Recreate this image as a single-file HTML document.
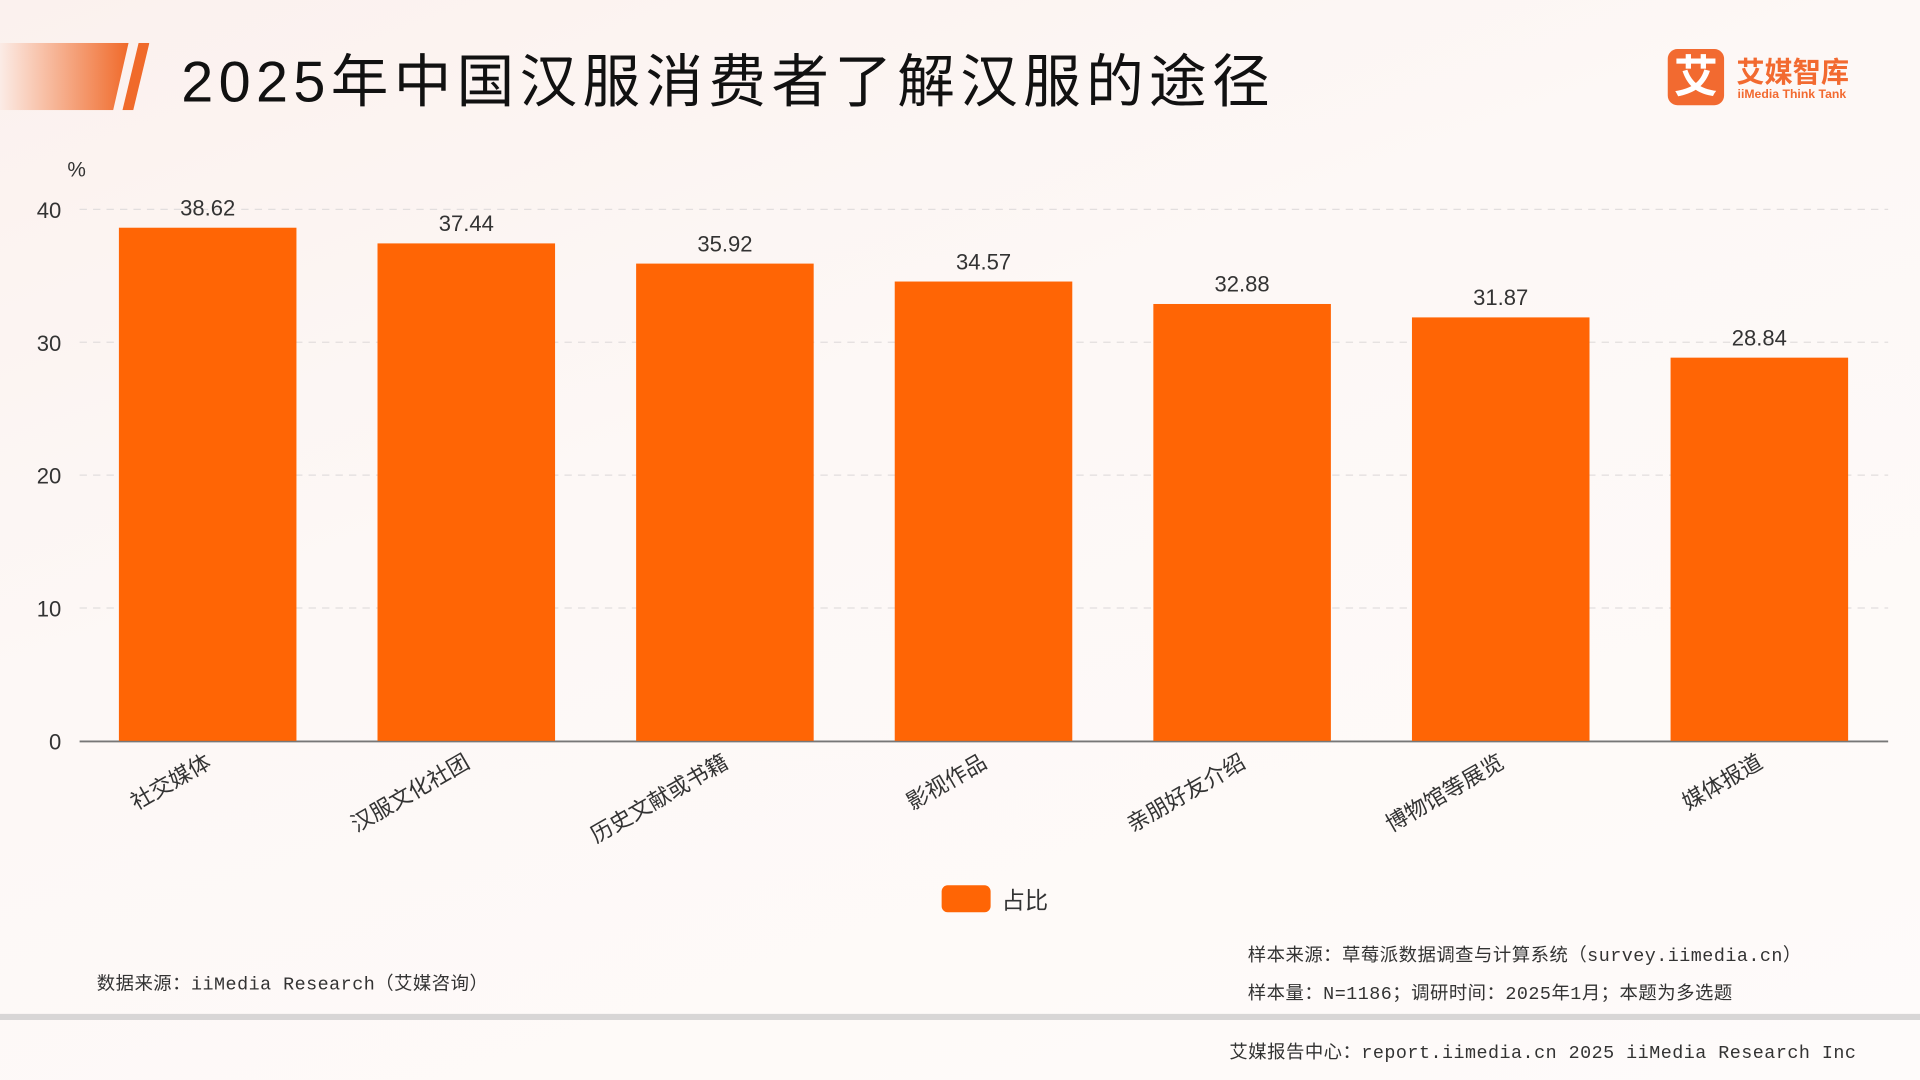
<!DOCTYPE html>
<html><head><meta charset="utf-8">
<style>
html,body{margin:0;padding:0;width:1920px;height:1080px;overflow:hidden;background:#fdf7f5;}
#wrap{position:absolute;left:0;top:0;width:1568px;height:882px;transform:scale(1.22449);transform-origin:0 0;
background:linear-gradient(160deg,#fbf1ee 0%,#fdf8f6 40%,#fefbfa 100%);font-family:"Liberation Sans","Noto Sans CJK SC",sans-serif;}
.abs{position:absolute;}
.mono{font-family:"Liberation Mono","Noto Sans CJK SC",monospace;color:#333;font-size:15px;letter-spacing:0.4px;}
</style></head><body>
<div id="wrap">
  <div class="abs" style="left:0;top:35px;width:105px;height:55px;background:linear-gradient(90deg,rgba(255,120,60,0.05),#f06a2a);clip-path:polygon(0 0,100% 0,88% 100%,0 100%);"></div>
  <div class="abs" style="left:100px;top:35px;width:22px;height:55px;background:#f06a2a;clip-path:polygon(60% 0,100% 0,40% 100%,0 100%);"></div>
  <div class="abs" style="left:148px;top:28px;font-size:47px;letter-spacing:4.4px;color:#111;white-space:nowrap;">2025年中国汉服消费者了解汉服的途径</div>
  <div class="abs" style="left:1362px;top:40px;width:46px;height:46px;background:#f26a30;border-radius:8px;color:#fff;font-size:36px;line-height:46px;text-align:center;font-weight:bold;">艾</div>
  <div class="abs" style="left:1418px;top:40px;color:#f26a30;font-size:23px;font-weight:bold;white-space:nowrap;">艾媒智库</div>
  <div class="abs" style="left:1419px;top:72px;color:#f26a30;font-size:10px;font-weight:bold;white-space:nowrap;">iiMedia Think Tank</div>

  <svg class="abs" style="left:0;top:0" width="1568" height="882">
    <g id="grid"></g><g id="bars"></g><g id="labels"></g>
  </svg>

  <div class="abs" style="left:769px;top:723px;width:40px;height:22px;background:#ff6505;border-radius:5px;"></div>
  <div class="abs" style="left:818px;top:721px;font-size:19px;color:#333;">占比</div>

  <div class="abs mono" style="left:79px;top:792px;">数据来源：iiMedia Research（艾媒咨询）</div>
  <div class="abs mono" style="left:1019px;top:769px;">样本来源：草莓派数据调查与计算系统（survey.iimedia.cn）</div>
  <div class="abs mono" style="left:1019px;top:800px;">样本量：N=1186；调研时间：2025年1月；本题为多选题</div>
  <div class="abs" style="left:0;top:828px;width:1568px;height:5px;background:#d8d6d6;"></div>
  <div class="abs mono" style="left:1004px;top:848px;">艾媒报告中心：report.iimedia.cn  2025 iiMedia Research Inc</div>
</div>
<script>
const categories=["社交媒体","汉服文化社团","历史文献或书籍","影视作品","亲朋好友介绍","博物馆等展览","媒体报道"];
const values=[38.62,37.44,35.92,34.57,32.88,31.87,28.84];
const ticks=[0,10,20,30,40];
const NS="http://www.w3.org/2000/svg";
const y0=605,yTop=171,yMax=40,x0=64,band=211.2,barW=145;
function yS(v){return y0-(v/yMax)*(y0-yTop);}
function xC(i){return x0+band*(i+0.5);}
function mk(t,a,p){const e=document.createElementNS(NS,t);for(const k in a)e.setAttribute(k,a[k]);p.appendChild(e);return e;}
const g=document.getElementById('grid'),b=document.getElementById('bars'),l=document.getElementById('labels');
ticks.forEach(t=>{
  if(t>0){const ln=mk('line',{x1:65,x2:1542,y1:yS(t),y2:yS(t),stroke:'#e2dede','stroke-dasharray':'6 5'},g);
  }
  const tx=mk('text',{x:50,y:yS(t)+7,'text-anchor':'end','font-size':18,fill:'#333','font-family':'Liberation Sans'},g);
  tx.textContent=t;
  
  
});
const unit=mk('text',{x:55,y:144,'font-size':17,fill:'#333'},g);unit.textContent='%';


values.forEach((v,i)=>{
  const r=mk('rect',{x:xC(i)-barW/2,y:yS(v),width:barW,height:y0-yS(v),fill:'#ff6505'},b);
  
  
  const vt=mk('text',{x:xC(i),y:yS(v)-10,'text-anchor':'middle','font-size':18,fill:'#333','font-family':'Liberation Sans'},l);
  vt.textContent=v.toFixed(2);
  
  
  const ct=mk('text',{x:xC(i),y:y0+22,'text-anchor':'end','font-size':18,fill:'#333',transform:`rotate(-30 ${xC(i)} ${y0+14})`,'font-family':'Liberation Sans, Noto Sans CJK SC, sans-serif'},l);
  ct.textContent=categories[i];
  
  
});
const ax=mk('line',{x1:65,x2:1542,y1:y0+0.5,y2:y0+0.5,stroke:'#777','stroke-width':1.5},g);


</script>
</body></html>
